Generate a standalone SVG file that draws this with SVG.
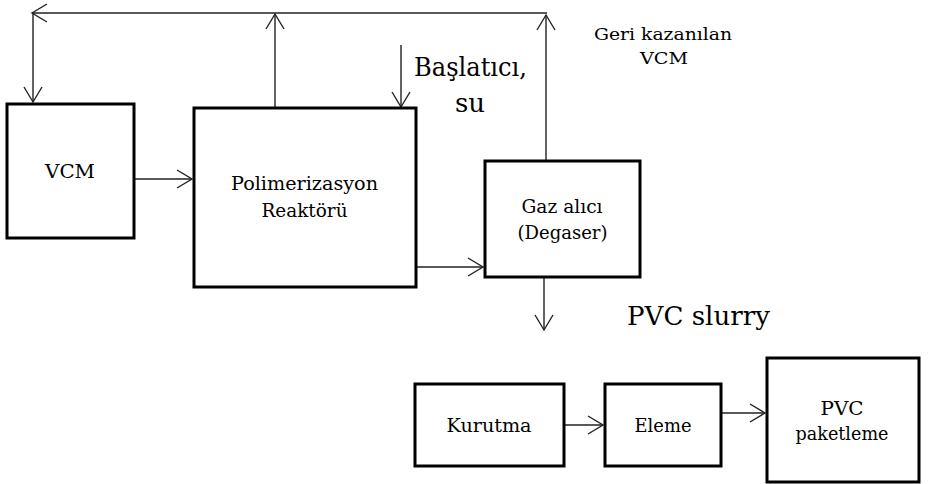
<svg xmlns="http://www.w3.org/2000/svg" width="930" height="484" viewBox="0 0 930 484">
<style>
.box{fill:#fff;stroke:#000;stroke-width:3}
.lbl{font-family:'DejaVu Serif','Liberation Serif',serif;font-size:18px;fill:#000;text-anchor:middle}
.sm{font-size:17px}
.big{font-family:'DejaVu Serif','Liberation Serif',serif;font-size:26px;fill:#000}
.con{fill:none;stroke:#222;stroke-width:1.4;marker-end:url(#ah)}
</style>
<defs>
<marker id="ah" markerUnits="userSpaceOnUse" viewBox="-17 -10 19 20" refX="0" refY="0" markerWidth="19" markerHeight="20" orient="auto" overflow="visible">
<path d="M-15,-9 L0,0 L-15,9" fill="none" stroke="#222" stroke-width="1.4"/>
</marker>
</defs>
<g id="connectors">
<path class="con" d="M547,13 L32,13"/>
<path class="con" d="M33,13 L33,102"/>
<path class="con" d="M275,107 L275,14"/>
<path class="con" d="M546,160 L546,15"/>
<path class="con" d="M401,45 L401,107"/>
<path class="con" d="M134,179 L192,179"/>
<path class="con" d="M416,267 L483,267"/>
<path class="con" d="M544,277 L544,330"/>
<path class="con" d="M562,425 L603,425"/>
<path class="con" d="M721,413 L765,413"/>
</g>
<g id="vcm">
<rect class="box" x="7" y="104" width="127" height="134"/>
<text class="lbl" x="70" y="178" textLength="50" lengthAdjust="spacingAndGlyphs">VCM</text>
</g>
<g id="reactor">
<rect class="box" x="194" y="108" width="222" height="179"/>
<text class="lbl" x="304.5" y="190" textLength="147" lengthAdjust="spacingAndGlyphs">Polimerizasyon</text>
<text class="lbl" x="304.5" y="217" textLength="86" lengthAdjust="spacingAndGlyphs">Reaktörü</text>
</g>
<g id="degaser">
<rect class="box" x="485" y="161" width="155" height="116"/>
<text class="lbl" x="562" y="213" textLength="81" lengthAdjust="spacingAndGlyphs">Gaz alıcı</text>
<text class="lbl" x="562.5" y="239" textLength="90" lengthAdjust="spacingAndGlyphs">(Degaser)</text>
</g>
<g id="kurutma">
<rect class="box" x="415" y="384" width="149" height="82"/>
<text class="lbl" x="489" y="432" textLength="85" lengthAdjust="spacingAndGlyphs">Kurutma</text>
</g>
<g id="eleme">
<rect class="box" x="605" y="384" width="116" height="82"/>
<text class="lbl" x="663" y="432" textLength="57" lengthAdjust="spacingAndGlyphs">Eleme</text>
</g>
<g id="paketleme">
<rect class="box" x="767" y="358" width="152" height="124"/>
<text class="lbl" x="842" y="415" textLength="43" lengthAdjust="spacingAndGlyphs">PVC</text>
<text class="lbl" x="842" y="440" textLength="93" lengthAdjust="spacingAndGlyphs">paketleme</text>
</g>
<g id="labels">
<text class="lbl sm" x="663" y="40" textLength="138" lengthAdjust="spacingAndGlyphs">Geri kazanılan</text>
<text class="lbl sm" x="664" y="64" textLength="48" lengthAdjust="spacingAndGlyphs">VCM</text>
<text class="big" x="470.5" y="76" text-anchor="middle" textLength="113" lengthAdjust="spacingAndGlyphs">Başlatıcı,</text>
<text class="big" x="470" y="112" text-anchor="middle">su</text>
<text class="big" x="627" y="325" textLength="143" lengthAdjust="spacingAndGlyphs">PVC slurry</text>
</g>
</svg>
